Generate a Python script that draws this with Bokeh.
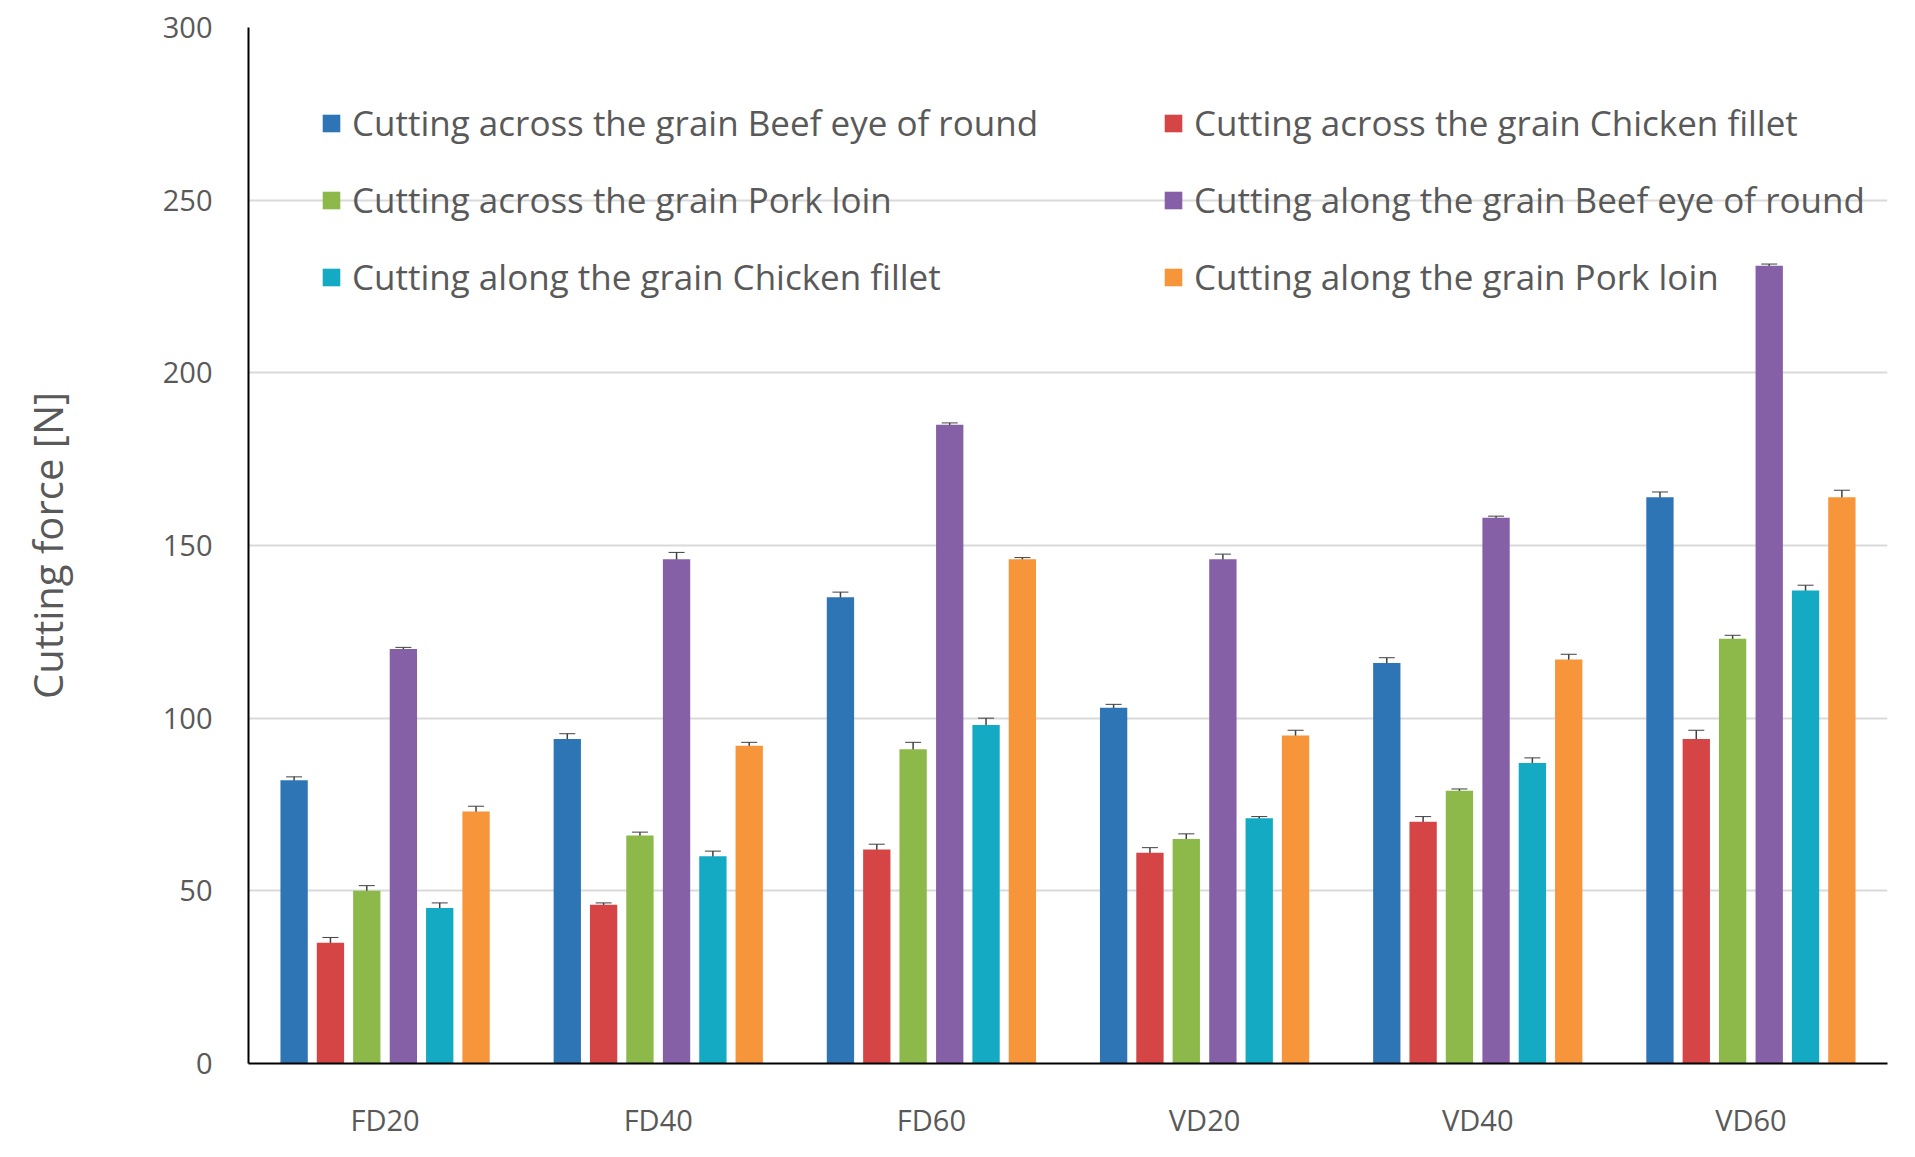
from bokeh.plotting import figure
from bokeh.models import ColumnDataSource, Whisker, Legend, LegendItem, FactorRange
from bokeh.transform import dodge
from bokeh.embed import file_html
from bokeh.resources import INLINE

groups = ["FD20", "FD40", "FD60", "VD20", "VD40", "VD60"]
series = ["Cutting across the grain Beef eye of round", "Cutting across the grain Chicken fillet",
          "Cutting across the grain Pork loin", "Cutting along the grain Beef eye of round",
          "Cutting along the grain Chicken fillet", "Cutting along the grain Pork loin"]
colors = ["#2e75b6", "#d64545", "#8db84a", "#8660a6", "#14aac4", "#f7953a"]
beef_across = [82, 94, 135, 103, 116, 164]
chicken_across = [35, 46, 62, 61, 70, 94]
pork_across = [50, 66, 91, 65, 79, 123]
beef_along = [120, 146, 185, 146, 158, 231]
chicken_along = [45, 60, 98, 71, 87, 137]
pork_along = [73, 92, 146, 95, 117, 164]
errors = [[1, 1.5, 1.5, 1, 1.5, 1.5],
          [1.5, 0.5, 1.5, 1.5, 1.5, 2.5],
          [1.5, 1, 2, 1.5, 0.5, 1],
          [0.5, 2, 0.5, 1.5, 0.5, 0.5],
          [1.5, 1.5, 2, 0.5, 1.5, 1.5],
          [1.5, 1, 0.5, 1.5, 1.5, 2]]
vals = [beef_across, chicken_across, pork_across, beef_along, chicken_along, pork_along]

p = figure(x_range=FactorRange(*groups, range_padding=0), y_range=(0, 300), width=1899, height=1141,
           output_backend="svg", toolbar_location=None, min_border_left=248, min_border_right=12,
           min_border_top=27, min_border_bottom=68, outline_line_color=None)

offsets = [-0.333, -0.2, -0.067, 0.067, 0.2, 0.333]
items = []
for i in range(6):
    src = ColumnDataSource(dict(g=groups, v=vals[i],
                                up=[a + e for a, e in zip(vals[i], errors[i])],
                                lo=[a - e for a, e in zip(vals[i], errors[i])]))
    r = p.vbar(x=dodge("g", offsets[i], range=p.x_range), top="v", width=0.1, source=src,
               fill_color=colors[i], line_color=None)
    w = Whisker(base=dodge("g", offsets[i], range=p.x_range), upper="up", lower="lo", source=src,
                line_color="#404040", line_width=1.5)
    w.upper_head.size = 16; w.lower_head.size = 16
    w.upper_head.line_color = "#404040"; w.lower_head.line_color = "#404040"
    p.add_layout(w)
    items.append(LegendItem(label=series[i], renderers=[r]))

leg = Legend(items=items, ncols=2, orientation="horizontal", location="top_left",
             background_fill_alpha=0, border_line_color=None, label_text_font="Open Sans",
             label_text_font_size="35px", label_text_color="#595959", glyph_width=22, glyph_height=22,
             label_standoff=10, spacing=30, padding=0, margin=72, label_height=45, label_width=780)
p.add_layout(leg)

p.ygrid.grid_line_color = "#d9d9d9"; p.ygrid.grid_line_width = 2
p.xgrid.grid_line_color = None
p.yaxis.ticker = [0, 50, 100, 150, 200, 250, 300]
for ax in (p.xaxis, p.yaxis):
    ax.major_tick_line_color = None
    ax.minor_tick_line_color = None
    ax.major_label_text_font = "Open Sans"
    ax.major_label_text_font_size = "29px"
    ax.major_label_text_color = "#595959"
    ax.axis_line_color = "black"
    ax.axis_line_width = 2
p.yaxis.axis_label = "Cutting force [N]"
p.yaxis.axis_label_text_font = "Open Sans"
p.yaxis.axis_label_text_font_style = "normal"
p.yaxis.axis_label_text_font_size = "40px"
p.yaxis.axis_label_text_color = "#595959"
p.yaxis.major_label_standoff = 30
p.yaxis.axis_label_standoff = 85
p.xaxis.major_label_standoff = 30

open("out.html", "w").write(file_html(p, INLINE))
